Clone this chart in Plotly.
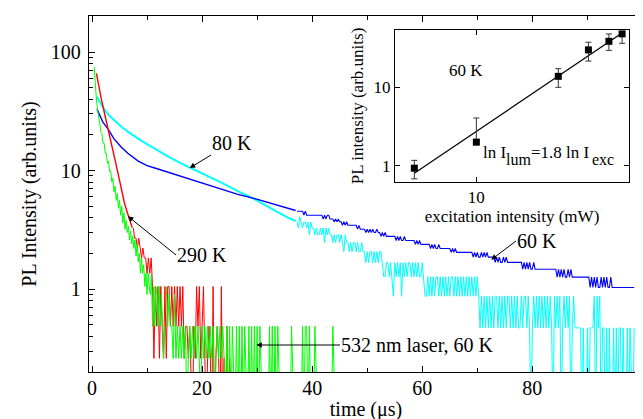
import plotly.graph_objects as go

# ---------------- main panel: PL decay curves ----------------
# time in microseconds, PL intensity in arb. units
# 80 K (cyan): early part
cyan_head_t = [0.9, 2.0, 3.0, 4.0, 5.3, 7.0, 9.0, 11.4, 14.0, 17.4, 20.0, 23.5, 26.5, 29.6, 32.5, 35.6, 37.0]
cyan_head_v = [42, 34, 29.5, 26.5, 23.5, 20.5, 17.8, 15.3, 13.0, 10.8, 9.5, 7.9, 6.7, 5.7, 4.8, 4.0, 3.75]
# 80 K late part: quantised counts, one symbol per 0.25 us sample
cyan_tail_t0 = 37.25
cyan_symbols = "0123456789a"
cyan_levels = [0.07, 0.47, 0.87, 1.27, 1.67, 2.07, 2.47, 2.87, 3.27, 3.67, 4.07]
cyan_tail_code = "".join([
    "98a989989798", "8787787868787", "767677676576", "656566565565",
    "54545545454554", "33", "4",
    "4343", "2", "43434", "2", "4343443434343343",
    "223232", "323323", "232323", "233232", "323232", "323232",
    "3232121", "212121", "212212", "121212", "212121", "211212", "2121",
    "0", "121212121212121", "0", "21212", "0", "121212", "0", "121",
    "111", "10100101", "11", "202120", "11", "0101001010", "1101001010", "01",
])

# 60 K (blue): early part
blue_head_t = [0.9, 1.5, 2.0, 2.9, 4.0, 5.3, 6.5, 8.4, 10.0, 11.4, 14.0, 17.4, 20.0, 23.5, 26.5, 29.6, 32.5, 35.6, 37.0]
blue_head_v = [33, 28.5, 25.5, 22.5, 18.5, 15.8, 14.0, 12.0, 11.0, 10.5, 9.6, 8.5, 7.8, 6.9, 6.3, 5.8, 5.3, 4.85, 4.6]
# 60 K late part: staircase of quantised levels
blue_tail_t0 = 37.25
blue_symbols = "abcdefghijklmnopq"
blue_levels = [4.53, 4.2, 3.9, 3.7, 3.45, 3.2, 3.0, 2.78, 2.57, 2.38, 2.2, 2.04, 1.86, 1.68, 1.47, 1.26, 1.03]
blue_tail_code = "".join([
    "aaaaa", "bab", "bbbbbbbbbbb", "cbcbbc", "cc", "dcdc", "dd", "edede", "eeeeee",
    "fef", "fff", "gfgfgfggf", "gg", "hghghh", "hhhhh", "ihihiih", "iiiiiii",
    "jiji", "jjjjjjj", "kjkjkkjk", "kkkkkkk", "lklkll", "llllllllll",
    "mlmlmmlmlml", "mmmmm", "nmnmnnmnm", "nnnnnnnnnnn", "onononoono",
    "ooooooooooooooo", "popopoppopop", "pppppppppppp", "qpqpqpqqpqpqpqqpq",
    "qqqqqqqqqqqqqqqq",
])

# 290 K (red)
red_head_t = [0.8, 1.2, 1.7, 2.3, 2.9, 3.5, 4.1, 4.7, 5.3, 5.9, 6.5, 7.1, 7.3]
red_head_v = [66, 52, 40, 30, 23, 17, 12.8, 9.6, 7.0, 5.3, 4.3, 3.5, 3.3]
red_tail_t0 = 7.5
red_symbols = "012345678"
red_levels = [0.07, 0.26, 0.485, 1.05, 1.36, 1.83, 2.22, 2.69, 3.27]
red_tail_code = "".join([
    "8", "77", "676", "565", "54545", "313231321", "313", "32323232", "32312",
    "2121021", "323", "12", "3", "101210", "3", "01210", "3", "010201", "0",
])

# 532 nm laser, 60 K (green)
green_head_t = [0.4, 0.6, 0.8, 1.0, 1.2, 1.4, 1.6, 1.8, 2.0, 2.2, 2.4, 2.6, 2.8, 3.0, 3.2, 3.4,
                3.6, 3.8, 4.0, 4.2, 4.4, 4.6, 4.8, 5.0, 5.2, 5.4, 5.6, 5.8, 6.0, 6.2, 6.4, 6.6,
                6.8, 7.0, 7.2, 7.4, 7.6, 7.8, 8.0, 8.2, 8.4, 8.6, 8.8, 9.0, 9.2, 9.4, 9.6, 9.8,
                10.0, 10.2, 10.4, 10.6, 10.8, 11.0, 11.2, 11.4, 11.6, 11.8, 12.0, 12.2, 12.4,
                12.6, 12.8, 13.0, 13.2]
green_head_v = [75, 50, 40, 33, 27, 25, 21, 20.5, 17, 17, 14, 14, 11.5, 12, 9.8, 10,
                8.0, 8.6, 6.6, 7.4, 5.6, 6.4, 4.8, 5.6, 4.2, 5.0, 3.6, 4.4, 3.2, 3.8, 3.0, 3.4,
                2.6, 3.1, 2.4, 2.8, 2.2, 2.6, 1.9, 2.4, 1.7, 2.0, 1.36, 1.83, 1.36, 1.6, 1.05, 1.36,
                0.9, 1.36, 1.05, 0.9, 1.32, 0.485, 1.05, 0.485, 1.05, 0.9, 0.485, 1.05, 0.485,
                0.9, 0.485, 0.26, 0.485]
green_tail_t0 = 13.5
green_symbols = "01234"
green_levels = [0.07, 0.26, 0.485, 0.9, 1.05]
green_tail_code = "".join([
    "4232",
    "21312", "12121", "20121", "21212", "10212", "12121", "20121", "21210", "2",
    "02020", "02020", "20200", "20202", "02020",
    "00000", "2020202", "000000000", "2", "0000000", "202202", "000", "2",
    "000000000000", "2", "000",
])

tail_dt = 0.25

# ---------------- inset: PL intensity vs excitation ----------------
exc_power = [5, 10, 25, 35, 44, 51]
pl_int = [0.93, 2.0, 13.8, 30, 38.6, 48]
err_plus = [0.24, 2.06, 3.5, 7.6, 9.3, 3.5]
err_minus = [0.25, 0.15, 3.8, 8.4, 9.0, 11.6]
fit_x = [5.0, 52.5]
fit_y = [0.80, 52]


def decode(code, symbols, levels, t0, dt):
    ts, vs = [], []
    for i, ch in enumerate(code):
        ts.append(t0 + dt * i)
        vs.append(levels[symbols.index(ch)])
    return ts, vs


FONT = "Liberation Serif, Times New Roman, serif"
CYAN, BLUE, RED, GREEN = "#00FFFF", "#0000FF", "#FF0000", "#00FF00"

fig = go.Figure()


def add_line(x, y, color, width):
    fig.add_trace(go.Scatter(x=x, y=y, mode="lines", line=dict(color=color, width=width),
                             hoverinfo="skip", showlegend=False, xaxis="x", yaxis="y"))


add_line(cyan_head_t, cyan_head_v, CYAN, 2.0)
add_line(*decode(cyan_tail_code, cyan_symbols, cyan_levels, cyan_tail_t0, tail_dt), CYAN, 1)
add_line(blue_head_t, blue_head_v, BLUE, 1.4)
add_line(*decode(blue_tail_code, blue_symbols, blue_levels, blue_tail_t0, tail_dt), BLUE, 1.1)
add_line(red_head_t, red_head_v, RED, 1.4)
add_line(*decode(red_tail_code, red_symbols, red_levels, red_tail_t0, tail_dt), RED, 1)
add_line(green_head_t, green_head_v, GREEN, 1)
add_line(*decode(green_tail_code, green_symbols, green_levels, green_tail_t0, tail_dt), GREEN, 1)

# inset
fig.add_trace(go.Scatter(x=fit_x, y=fit_y, mode="lines", line=dict(color="black", width=1.2),
                         xaxis="x2", yaxis="y2", showlegend=False, hoverinfo="skip"))
fig.add_trace(go.Scatter(x=exc_power, y=pl_int, mode="markers",
                         marker=dict(symbol="square", size=7, color="black"),
                         error_y=dict(type="data", array=err_plus, arrayminus=err_minus,
                                      color="#333333", thickness=1, width=3),
                         xaxis="x2", yaxis="y2", showlegend=False, hoverinfo="skip"))

axis_common = dict(showline=True, linecolor="black", linewidth=1.4, mirror="ticks",
                   ticks="inside", tickcolor="black", tickwidth=1.2, showgrid=False,
                   zeroline=False, automargin=False)

fig.update_layout(
    width=643, height=419,
    margin=dict(l=81, r=8, t=8, b=55),
    paper_bgcolor="white", plot_bgcolor="white",
    showlegend=False,
    font=dict(family=FONT, size=20, color="black"),
    xaxis=dict(axis_common, range=[-0.545, 100.1], tick0=0, dtick=20, ticklen=6,
               ticklabelstandoff=-2,
               minor=dict(dtick=10, tick0=0, ticks="inside", ticklen=4, tickcolor="black"),
               tickfont=dict(size=20, family=FONT),
               title=dict(text="time (μs)", font=dict(size=20, family=FONT), standoff=3)),
    yaxis=dict(axis_common, type="log", range=[-0.700, 2.304], dtick=1, ticklen=6,
               ticklabelstandoff=3,
               minor=dict(dtick="D1", ticks="inside", ticklen=4, tickcolor="black"),
               tickfont=dict(size=20, family=FONT),
               title=dict(text="PL Intensity (arb.units)", font=dict(size=20, family=FONT), standoff=8)),
    xaxis2=dict(axis_common, domain=[0.5523, 0.9747], anchor="y2", type="log",
                range=[0.605, 1.741], tickvals=[10], ticktext=["10"], ticklen=5,
                linewidth=1.1, tickfont=dict(size=17, family=FONT),
                title=dict(text="excitation intensity (mW)", font=dict(size=17, family=FONT), standoff=1)),
    yaxis2=dict(axis_common, domain=[0.5337, 0.9607], anchor="x2", type="log",
                range=[-0.208, 1.731], tickvals=[1, 10], ticktext=["1", "10"], ticklen=5,
                linewidth=1.1, tickfont=dict(size=17, family=FONT),
                title=dict(text="PL intensity (arb.units)", font=dict(size=17, family=FONT), standoff=5)),
)


def px_to_paper(px, py):
    return (px - 81) / 554.0, (364 - py) / 356.0


def label(text, px, py, size=20, xanchor="center"):
    x, y = px_to_paper(px, py)
    fig.add_annotation(x=x, y=y, xref="paper", yref="paper", text=text, showarrow=False,
                       font=dict(size=size, family=FONT, color="black"),
                       xanchor=xanchor, yanchor="middle", borderpad=0, borderwidth=0)


def arrow_label(text, tip_px, tip_py, tail_px, tail_py, xanchor, yanchor):
    # the label sits at the arrow's tail; the arrow points at the curve
    x, y = px_to_paper(tip_px, tip_py)
    fig.add_annotation(x=x, y=y, xref="paper", yref="paper", text=text, showarrow=True,
                       ax=tail_px - tip_px, ay=tail_py - tip_py,
                       xanchor=xanchor, yanchor=yanchor,
                       font=dict(size=20, family=FONT, color="black"),
                       arrowhead=2, arrowsize=1.1, arrowwidth=1, arrowcolor="black",
                       standoff=0, borderpad=0)


# main annotations
arrow_label("80 K", 181.7, 160, 203, 147, "left", "bottom")
arrow_label("290 K", 120, 208.3, 168, 247, "left", "middle")
arrow_label("60 K", 483.3, 251.7, 508, 233, "left", "middle")
arrow_label("532 nm laser, 60 K", 248.3, 337, 332, 337, "left", "middle")

# inset annotations (fit law written with lowered subscripts)
label("60 K", 458, 63, size=17)
label("ln I", 475, 144, size=17, xanchor="left")
label("lum", 498, 151, size=16, xanchor="left")
label("=1.8 ln I", 523, 144, size=17, xanchor="left")
label("exc", 584, 151, size=16, xanchor="left")

fig.write_html("out.html")
